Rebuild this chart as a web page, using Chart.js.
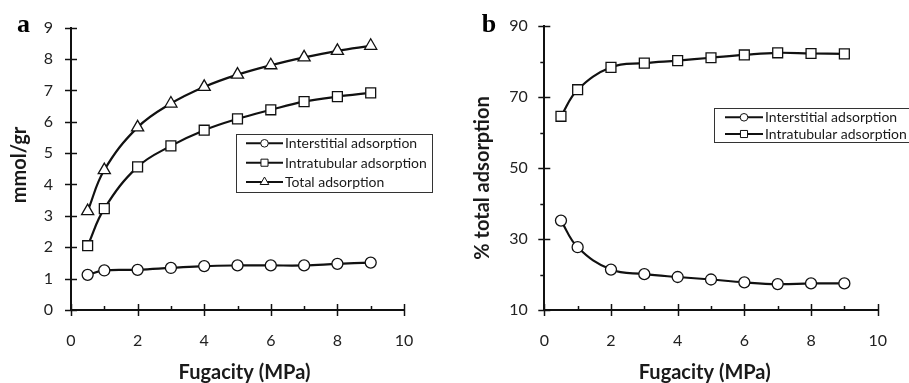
<!DOCTYPE html>
<html>
<head>
<meta charset="utf-8">
<script src="https://cdn.jsdelivr.net/npm/chart.js@4.4.1/dist/chart.umd.min.js"></script>
<style>
  html, body { margin: 0; padding: 0; background: #fff; }
  #wrap { position: relative; width: 909px; height: 383px; overflow: hidden; }
  .panel { position: absolute; top: 0; }
  #pa { left: 0; }
  #pb { left: 455px; }
</style>
</head>
<body>
<div id="wrap">
  <div class="panel" id="pa"><canvas id="chart-a" width="455" height="383"></canvas></div>
  <div class="panel" id="pb"><canvas id="chart-b" width="454" height="383"></canvas></div>
</div>
<script>
// fugacity (MPa)
const fugacity = [0.5, 1, 2, 3, 4, 5, 6, 7, 8, 9];

// panel a: mmol/gr
const interstitialMmol = [1.12, 1.26, 1.28, 1.34, 1.40, 1.42, 1.42, 1.42, 1.47, 1.51];
const intratubularMmol = [2.05, 3.23, 4.56, 5.23, 5.73, 6.09, 6.38, 6.64, 6.80, 6.92];
const totalMmol = [3.15, 4.46, 5.82, 6.58, 7.11, 7.50, 7.80, 8.05, 8.26, 8.42];

// panel b: % of total adsorption
const interstitialPct = [35.2, 27.7, 21.4, 20.1, 19.3, 18.6, 17.8, 17.3, 17.5, 17.5];
const intratubularPct = [64.6, 72.1, 78.4, 79.6, 80.3, 81.1, 81.9, 82.5, 82.3, 82.2];

const xTicks = [0, 2, 4, 6, 8, 10];
const yTicksA = [0, 1, 2, 3, 4, 5, 6, 7, 8, 9];
const yTicksB = [10, 30, 50, 70, 90];

const INK = '#111';
const FONT = 'Lato, "Open Sans", sans-serif';

function serie(label, ys, style, radius) {
  return {
    label,
    data: fugacity.map((x, i) => ({ x, y: ys[i] })),
    borderColor: INK, borderWidth: 2.2, tension: 0.4,
    pointStyle: style, pointRadius: radius, pointHoverRadius: radius,
    pointBackgroundColor: '#fff', pointBorderColor: INK, pointBorderWidth: 1.3,
    clip: false
  };
}

// ticks that cross the axis, minor ones half
const axisDeco = {
  id: 'axisDeco',
  afterDraw(chart, args, o) {
    const ctx = chart.ctx;
    const { left, bottom } = chart.chartArea;
    const sx = chart.scales.x, sy = chart.scales.y;
    ctx.save();
    ctx.strokeStyle = INK; ctx.lineWidth = 1.5;
    sx.ticks.forEach(t => {
      const px = Math.round(sx.getPixelForValue(t.value)) + 0.5;
      const major = xTicks.includes(t.value);
      ctx.beginPath();
      ctx.moveTo(px, major ? bottom - 6 : bottom - 4);
      ctx.lineTo(px, major ? bottom + 6 : bottom);
      ctx.stroke();
    });
    sy.ticks.forEach(t => {
      const py = Math.round(sy.getPixelForValue(t.value)) + 0.5;
      const major = o.yMajor.includes(t.value);
      ctx.beginPath();
      ctx.moveTo(major ? left - 6 : left - 4, py);
      ctx.lineTo(major ? left + 6 : left, py);
      ctx.stroke();
    });

    // panel letter
    ctx.fillStyle = '#000';
    ctx.font = 'bold 26px "Liberation Serif", serif';
    ctx.textBaseline = 'alphabetic'; ctx.textAlign = 'left';
    ctx.fillText(o.letter, o.letterX, 31.5);

    // axis titles
    ctx.fillStyle = '#1a1a1a';
    ctx.font = 'bold 20px ' + FONT;
    ctx.textAlign = 'center';
    ctx.fillText('Fugacity (MPa)', o.xTitleX, 379);
    ctx.save();
    ctx.translate(o.yTitle[0], o.yTitle[1]);
    ctx.rotate(-Math.PI / 2);
    ctx.textBaseline = 'middle';
    ctx.fillText(o.yTitleText, 0, 0);
    ctx.restore();

    // legend
    const lg = o.legend;
    ctx.strokeStyle = '#333'; ctx.lineWidth = 1;
    ctx.strokeRect(lg.box[0] + 0.5, lg.box[1] + 0.5, lg.box[2], lg.box[3]);
    ctx.font = '14px ' + FONT;
    ctx.textAlign = 'left'; ctx.textBaseline = 'middle';
    chart.data.datasets.forEach((ds, i) => {
      const y = lg.rows[i];
      ctx.strokeStyle = INK; ctx.lineWidth = 2;
      ctx.beginPath(); ctx.moveTo(lg.x0, y); ctx.lineTo(lg.x1, y); ctx.stroke();
      ctx.fillStyle = '#fff'; ctx.strokeStyle = INK; ctx.lineWidth = 1;
      Chart.helpers.drawPoint(ctx, {
        pointStyle: ds.pointStyle, radius: ds.pointStyle === 'circle' ? 3.8 : 5,
        borderWidth: 1, rotation: 0
      }, (lg.x0 + lg.x1) / 2, y);
      ctx.fillStyle = '#1a1a1a';
      ctx.fillText(ds.label, lg.tx, y + 0.5);
    });
    ctx.restore();
  }
};

function makeChart(id, datasets, yOpts, dims, deco) {
  return new Chart(document.getElementById(id), {
    type: 'line',
    data: { datasets },
    plugins: [axisDeco],
    options: {
      responsive: false, animation: false,
      layout: { padding: { left: 0, top: dims.top, right: dims.right, bottom: 0 } },
      plugins: { legend: { display: false }, tooltip: { enabled: false }, axisDeco: deco },
      scales: {
        x: {
          type: 'linear', min: 0, max: 10,
          grid: { display: false, drawTicks: false },
          border: { display: true, color: INK, width: 2 },
          ticks: {
            stepSize: 1, autoSkip: false, maxRotation: 0, padding: 21,
            color: '#222', font: { family: FONT, size: 16 },
            callback: v => xTicks.includes(v) ? v : ''
          },
          afterFit: s => { s.height = 73; }
        },
        y: {
          type: 'linear', min: yOpts.min, max: yOpts.max,
          grid: { display: false, drawTicks: false },
          border: { display: true, color: INK, width: 2 },
          ticks: {
            stepSize: yOpts.step, autoSkip: false, padding: yOpts.pad,
            color: '#222', font: { family: FONT, size: 16 },
            callback: v => yOpts.labels.includes(v) ? v : ''
          },
          afterFit: s => { s.width = dims.left; }
        }
      }
    }
  });
}

makeChart('chart-a', [
  serie('Interstitial adsorption', interstitialMmol, 'circle', 5.5),
  serie('Intratubular adsorption', intratubularMmol, 'rect', 7),
  serie('Total adsorption', totalMmol, 'triangle', 7)
], { min: 0, max: 9, step: 1, pad: 18, labels: yTicksA },
  { left: 71, top: 24, right: 51 },
  {
    letter: 'a', letterX: 17, xTitleX: 244.5, yTitle: [20, 165], yTitleText: 'mmol/gr', yMajor: yTicksA,
    legend: { box: [236, 134, 196, 58], rows: [143.3, 162.7, 182], x0: 246, x1: 283, tx: 285 }
  });

makeChart('chart-b', [
  serie('Interstitial adsorption', interstitialPct, 'circle', 5.5),
  serie('Intratubular adsorption', intratubularPct, 'rect', 7)
], { min: 10, max: 90, step: 10, pad: 16.6, labels: yTicksB },
  { left: 89.3, top: 24, right: 31.3 },
  {
    letter: 'b', letterX: 26.7, xTitleX: 249.7, yTitle: [27.5, 178], yTitleText: '% total adsorption', yMajor: yTicksB,
    legend: { box: [259, 108, 210, 34], rows: [117.3, 134], x0: 270, x1: 308, tx: 310 }
  });
</script>
</body>
</html>
